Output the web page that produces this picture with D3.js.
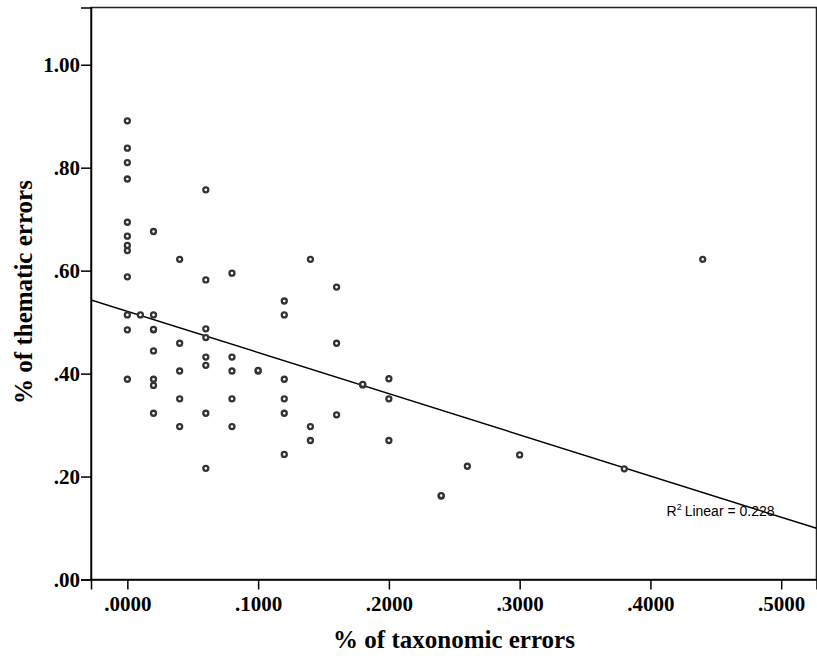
<!DOCTYPE html>
<html>
<head>
<meta charset="utf-8">
<script src="https://cdn.jsdelivr.net/npm/d3@7"></script>
<style>
  html, body { margin: 0; padding: 0; background: #fff; }
  svg { display: block; }
</style>
</head>
<body>
<script>
// Share of taxonomic errors (x) and thematic errors (y) per record
const taxonomic = [
  0.00, 0.00, 0.00, 0.00, 0.00, 0.00, 0.00, 0.00, 0.00, 0.00, 0.00, 0.00,
  0.01,
  0.02, 0.02, 0.02, 0.02, 0.02, 0.02, 0.02, 0.02,
  0.04, 0.04, 0.04, 0.04, 0.04,
  0.06, 0.06, 0.06, 0.06, 0.06, 0.06, 0.06, 0.06,
  0.08, 0.08, 0.08, 0.08, 0.08,
  0.10, 0.10,
  0.12, 0.12, 0.12, 0.12, 0.12, 0.12,
  0.14, 0.14, 0.14,
  0.16, 0.16, 0.16,
  0.18, 0.18,
  0.20, 0.20, 0.20,
  0.24, 0.24,
  0.26,
  0.30,
  0.38,
  0.44
];
const thematic = [
  0.891, 0.838, 0.810, 0.778, 0.694, 0.667, 0.649, 0.639, 0.588, 0.514, 0.485, 0.389,
  0.514,
  0.676, 0.514, 0.485, 0.486, 0.444, 0.389, 0.377, 0.323,
  0.622, 0.459, 0.405, 0.351, 0.297,
  0.757, 0.582, 0.487, 0.470, 0.432, 0.416, 0.323, 0.216,
  0.595, 0.432, 0.405, 0.351, 0.297,
  0.405, 0.406,
  0.541, 0.514, 0.389, 0.351, 0.323, 0.243,
  0.622, 0.297, 0.270,
  0.568, 0.459, 0.320,
  0.378, 0.379,
  0.390, 0.351, 0.270,
  0.162, 0.163,
  0.220,
  0.242,
  0.215,
  0.622
];

// Linear fit reported for the full data set (R² = 0.228)
const fitIntercept = 0.521;
const fitSlope = -0.800;
const fitLabel = "Linear = 0.228";

const xTicks = [0, 0.1, 0.2, 0.3, 0.4, 0.5];
const yTicks = [0, 0.2, 0.4, 0.6, 0.8, 1.0];
const xTitle = "% of taxonomic errors";
const yTitle = "% of thematic errors";

const W = 817, H = 656;
const plot = { left: 91, right: 816.5, top: 7.5, bottom: 579.5 };

const x = d3.scaleLinear().domain([-0.0278, 0.5270]).range([plot.left, plot.right]);
const y = d3.scaleLinear().domain([0, 1.1112]).range([plot.bottom, plot.top]);

const svg = d3.select("body").append("svg")
  .attr("width", W).attr("height", H);

svg.append("clipPath").attr("id", "plotClip")
  .append("rect")
  .attr("x", plot.left).attr("y", plot.top)
  .attr("width", plot.right - plot.left).attr("height", plot.bottom - plot.top);

// Frame around the plot area
svg.append("rect")
  .attr("x", plot.left).attr("y", plot.top)
  .attr("width", plot.right - plot.left).attr("height", plot.bottom - plot.top)
  .attr("fill", "none").attr("stroke", "#222").attr("stroke-width", 1.5);

// Axes
const tickFont = "'Liberation Serif', 'Times New Roman', serif";
const xAxis = svg.append("g")
  .attr("transform", `translate(0,${plot.bottom})`)
  .call(d3.axisBottom(x).tickValues(xTicks).tickSize(10).tickPadding(7)
    .tickFormat(d => d3.format(".4f")(d).replace(/^0/, "")));
const yAxis = svg.append("g")
  .attr("transform", `translate(${plot.left},0)`)
  .call(d3.axisLeft(y).tickValues(yTicks).tickSize(10).tickPadding(1)
    .tickFormat(d => d3.format(".2f")(d).replace(/^0/, "")));

[xAxis, yAxis].forEach(g => {
  g.select(".domain").attr("stroke", "#000").attr("stroke-width", 1.5);
  g.selectAll(".tick line").attr("stroke", "#000").attr("stroke-width", 1.5);
  g.selectAll(".tick text")
    .attr("fill", "#000")
    .style("font-family", tickFont)
    .style("font-weight", "bold")
    .style("font-size", "21px");
});

// Fit line
const xd = x.domain();
svg.append("line")
  .attr("clip-path", "url(#plotClip)")
  .attr("x1", x(xd[0])).attr("y1", y(fitIntercept + fitSlope * xd[0]))
  .attr("x2", x(xd[1])).attr("y2", y(fitIntercept + fitSlope * xd[1]))
  .attr("stroke", "#000").attr("stroke-width", 1.5);

// Points
svg.append("g").selectAll("circle")
  .data(d3.range(taxonomic.length))
  .join("circle")
  .attr("cx", i => x(taxonomic[i]))
  .attr("cy", i => y(thematic[i]))
  .attr("r", 2.5)
  .attr("fill", "#fff")
  .attr("stroke", "#333")
  .attr("stroke-width", 2.3);

// Fit annotation
const lab = svg.append("text")
  .attr("x", 666.5).attr("y", 516)
  .style("font-family", "'Liberation Sans', Arial, sans-serif")
  .style("font-size", "14px")
  .attr("fill", "#000");
lab.append("tspan").text("R");
lab.append("tspan").attr("dy", -6).style("font-size", "9px").text("2");
lab.append("tspan").attr("dy", 6).attr("dx", 3).text(fitLabel);

// Axis titles
svg.append("text")
  .attr("x", 454).attr("y", 648)
  .attr("text-anchor", "middle")
  .style("font-family", tickFont)
  .style("font-weight", "bold")
  .style("font-size", "25px")
  .text(xTitle);

svg.append("text")
  .attr("transform", "translate(32,292) rotate(-90)")
  .attr("text-anchor", "middle")
  .style("font-family", tickFont)
  .style("font-weight", "bold")
  .style("font-size", "25px")
  .text(yTitle);
</script>
</body>
</html>
